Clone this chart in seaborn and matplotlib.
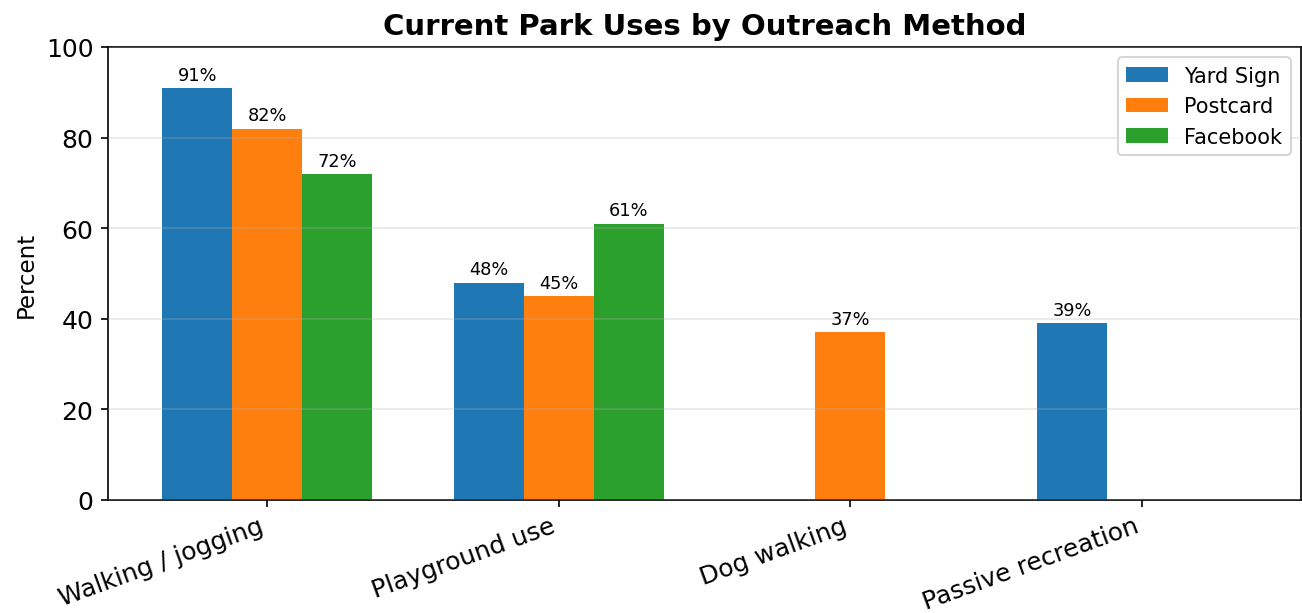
import matplotlib
matplotlib.use("Agg")
import matplotlib.pyplot as plt
import numpy as np
import pandas as pd
import seaborn as sns

# Données
categories = ["Walking / jogging", "Playground use", "Dog walking", "Passive recreation"]
methods = ["Yard Sign", "Postcard", "Facebook"]
yard_sign = [91, 48, np.nan, 39]
postcard = [82, 45, 37, np.nan]
facebook = [72, 61, np.nan, np.nan]
colors = ["#1f77b4", "#ff7f0e", "#2ca02c"]

df = pd.DataFrame({
    "Use": categories * 3,
    "Method": [m for m in methods for _ in categories],
    "Percent": yard_sign + postcard + facebook,
})

fig = plt.figure(figsize=(8.68, 4.093), dpi=150)
ax = fig.add_axes([108 / 1302, 1 - 501 / 614, 1193 / 1302, 453 / 614])

sns.barplot(
    data=df, x="Use", y="Percent", hue="Method",
    order=categories, hue_order=methods, palette=colors,
    width=0.72, gap=0, linewidth=0, saturation=1, errorbar=None, ax=ax,
)

for cont in ax.containers:
    labels = ["" if np.isnan(v) else f"{v:.0f}%" for v in cont.datavalues]
    ax.bar_label(cont, labels=labels, padding=2, fontsize=8.5)

ax.set_xlim(-0.546, 3.546)
ax.set_ylim(0, 100)
ax.set_yticks([0, 20, 40, 60, 80, 100])
ax.grid(axis="y", alpha=0.3)
ax.set_axisbelow(False)
ax.set_xlabel("")
ax.set_ylabel("Percent", fontsize=11)
ax.tick_params(axis="y", labelsize=12)
ax.tick_params(axis="x", labelsize=12, pad=3)
plt.setp(ax.get_xticklabels(), rotation=20, ha="right")
ax.set_title("Current Park Uses by Outreach Method", fontsize=14, fontweight="bold")
ax.legend(loc="upper right", fontsize=10)

fig.savefig("out.png", dpi=150)
